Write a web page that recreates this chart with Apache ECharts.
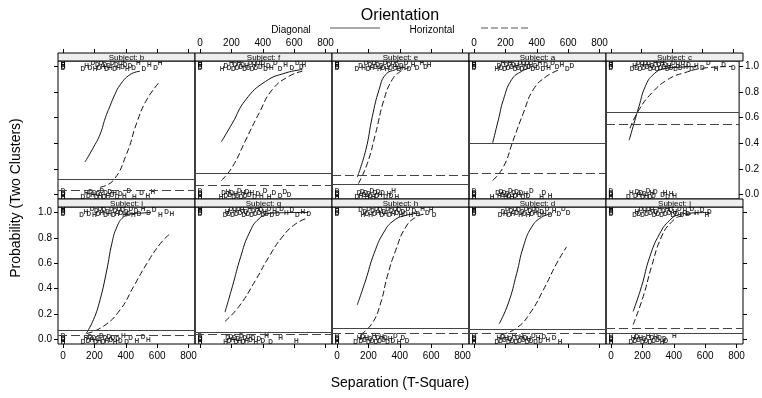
<!DOCTYPE html>
<html><head><meta charset="utf-8">
<script src="https://cdn.jsdelivr.net/npm/echarts@6/dist/echarts.min.js"></script>
<style>html,body{margin:0;padding:0;background:#fff}#c{width:762px;height:398px}</style>
</head><body><div id="c"></div>
<script>
// ---------- DATA ----------
const subjects = ['b','f','e','a','c','i','g','h','d','j'];
const xTicks = [0,200,400,600,800];
const yTicks = [0,0.2,0.4,0.6,0.8,1.0];

// fitted curves (Diagonal = solid, Horizontal = dashed), [separation, probability]
const diagCurves = [
  [[140,0.254],[190,0.36],[236,0.47],[270,0.6],[299,0.69],[330,0.78],[363,0.855],[427,0.937],[490,0.963]],
  [[136,0.412],[206,0.557],[291,0.74],[418,0.884],[546,0.95],[652,0.976]],
  [[129,0.136],[183,0.346],[225,0.609],[268,0.819],[310,0.937],[374,0.976],[430,0.995]],
  [[119,0.404],[155,0.583],[187,0.74],[240,0.898],[304,0.963],[357,0.99]],
  [[120,0.425],[152,0.557],[184,0.687],[226,0.845],[278,0.937],[352,0.982],[460,0.995],[560,1.0]],
  [[147,0.047],[194,0.156],[236,0.313],[279,0.547],[311,0.755],[343,0.885],[385,0.964],[438,0.99],[500,0.995],[560,1.0]],
  [[159,0.216],[206,0.416],[259,0.651],[312,0.833],[376,0.951],[461,0.995],[580,0.999],[690,1.0]],
  [[129,0.273],[183,0.469],[236,0.677],[299,0.846],[363,0.9375],[438,0.977],[523,0.995]],
  [[161,0.125],[219,0.287],[272,0.521],[314,0.729],[367,0.885],[431,0.963],[495,0.99]],
  [[141,0.221],[194,0.416],[247,0.651],[310,0.833],[373,0.9375],[437,0.984],[530,0.997],[627,1.0]]
];
const horizCurves = [
  [[236,0.057],[320,0.11],[406,0.32],[469,0.557],[533,0.74],[618,0.884]],
  [[136,0.11],[206,0.215],[291,0.425],[376,0.635],[461,0.82],[567,0.924],[652,0.963]],
  [[136,0.084],[193,0.242],[246,0.478],[299,0.74],[352,0.898],[406,0.963],[460,0.99]],
  [[119,0.11],[187,0.215],[250,0.425],[314,0.635],[378,0.82],[463,0.924],[548,0.976]],
  [[125,0.517],[184,0.661],[268,0.793],[373,0.898],[479,0.95],[627,0.99],[795,1.0]],
  [[151,0.047],[257,0.104],[364,0.234],[449,0.416],[535,0.6],[620,0.755],[678,0.828]],
  [[159,0.143],[248,0.26],[355,0.469],[439,0.651],[524,0.807],[610,0.911],[690,0.958]],
  [[151,0.039],[225,0.13],[278,0.287],[320,0.495],[374,0.703],[438,0.885],[502,0.963],[565,0.99]],
  [[176,0.039],[272,0.091],[357,0.208],[442,0.391],[527,0.6],[590,0.729]],
  [[141,0.117],[205,0.338],[258,0.573],[321,0.807],[385,0.924],[458,0.977],[540,0.99]]
];
// overall proportions (horizontal reference lines)
const diagMeans  = [0.124,0.168,0.084,0.40,0.64,0.073,0.0625,0.086,0.083,0.052];
const horizMeans = [0.03,0.071,0.15,0.168,0.551,0.026,0.039,0.052,0.052,0.086];

// observed responses: response = 1 (two clusters) and response = 0, [separation, orientation]
const success = [
  [[0,'D'],[0,'D'],[0,'H'],[0,'D'],[0,'H'],[127,'D'],[150,'H'],[172,'D'],[190,'D'],[205,'H'],[218,'D'],[230,'D'],[242,'D'],[255,'H'],[266,'D'],[278,'D'],[290,'D'],[302,'H'],[315,'D'],[328,'D'],[340,'D'],[352,'H'],[365,'D'],[380,'D'],[395,'D'],[410,'H'],[428,'D'],[450,'D'],[480,'H'],[515,'D'],[550,'H'],[590,'D'],[618,'H']],
  [[0,'D'],[0,'D'],[0,'H'],[0,'D'],[0,'H'],[140,'H'],[165,'D'],[185,'D'],[200,'H'],[212,'D'],[224,'D'],[236,'D'],[248,'H'],[260,'D'],[272,'D'],[284,'D'],[296,'H'],[308,'D'],[320,'D'],[332,'D'],[344,'H'],[356,'D'],[370,'D'],[385,'D'],[400,'H'],[418,'D'],[436,'D'],[455,'H'],[480,'D'],[510,'D'],[545,'H'],[585,'D'],[620,'D'],[645,'D'],[662,'H']],
  [[0,'D'],[0,'D'],[0,'H'],[0,'D'],[0,'H'],[127,'D'],[150,'D'],[170,'H'],[185,'D'],[198,'D'],[210,'D'],[222,'H'],[234,'D'],[246,'D'],[258,'D'],[270,'H'],[282,'D'],[294,'D'],[306,'D'],[318,'H'],[330,'D'],[342,'D'],[355,'D'],[368,'H'],[382,'D'],[396,'D'],[410,'D'],[425,'H'],[440,'D'],[460,'D'],[485,'H'],[510,'D'],[540,'H'],[565,'D'],[586,'H']],
  [[0,'D'],[0,'D'],[0,'H'],[0,'D'],[0,'H'],[146,'H'],[160,'D'],[172,'D'],[184,'H'],[195,'D'],[206,'D'],[217,'D'],[228,'H'],[239,'D'],[250,'D'],[261,'D'],[272,'H'],[283,'D'],[294,'D'],[305,'D'],[316,'H'],[327,'D'],[338,'D'],[350,'D'],[362,'H'],[375,'D'],[390,'D'],[405,'D'],[420,'H'],[438,'D'],[456,'D'],[475,'H'],[500,'D'],[530,'D'],[560,'H'],[595,'D'],[624,'D']],
  [[0,'D'],[0,'D'],[0,'H'],[0,'D'],[0,'H'],[139,'D'],[155,'H'],[168,'D'],[180,'D'],[192,'D'],[204,'H'],[215,'D'],[226,'D'],[237,'D'],[248,'H'],[259,'D'],[270,'D'],[281,'D'],[292,'H'],[303,'D'],[314,'D'],[325,'D'],[336,'H'],[347,'D'],[358,'D'],[370,'D'],[382,'H'],[395,'D'],[410,'D'],[425,'D'],[440,'H'],[455,'D'],[472,'D'],[490,'H'],[510,'D'],[530,'D'],[560,'H'],[600,'D'],[640,'D'],[690,'H'],[740,'D'],[804,'D']],
  [[0,'D'],[0,'D'],[0,'H'],[0,'D'],[0,'H'],[119,'D'],[145,'H'],[165,'D'],[185,'D'],[200,'H'],[212,'D'],[224,'D'],[236,'D'],[248,'H'],[260,'D'],[272,'D'],[284,'D'],[296,'H'],[308,'D'],[320,'D'],[332,'D'],[344,'H'],[356,'D'],[368,'D'],[380,'D'],[392,'H'],[404,'D'],[418,'D'],[432,'D'],[448,'H'],[465,'D'],[485,'D'],[510,'H'],[545,'D'],[580,'D'],[620,'H'],[660,'D'],[694,'H']],
  [[0,'D'],[0,'D'],[0,'H'],[0,'D'],[0,'H'],[159,'D'],[172,'H'],[184,'D'],[196,'D'],[208,'D'],[220,'H'],[232,'D'],[244,'D'],[256,'D'],[268,'H'],[280,'D'],[292,'D'],[304,'D'],[316,'H'],[328,'D'],[340,'D'],[352,'D'],[364,'H'],[376,'D'],[388,'D'],[400,'D'],[412,'H'],[425,'D'],[440,'D'],[458,'D'],[476,'H'],[495,'D'],[520,'D'],[550,'H'],[585,'D'],[620,'D'],[655,'H'],[694,'D']],
  [[0,'D'],[0,'D'],[0,'H'],[0,'D'],[151,'D'],[165,'H'],[178,'D'],[190,'D'],[202,'D'],[214,'H'],[226,'D'],[238,'D'],[250,'D'],[262,'H'],[274,'D'],[286,'D'],[298,'D'],[310,'H'],[322,'D'],[334,'D'],[346,'D'],[358,'H'],[370,'D'],[382,'D'],[394,'D'],[406,'H'],[420,'D'],[436,'D'],[452,'D'],[470,'H'],[490,'D'],[515,'D'],[545,'H'],[575,'D'],[600,'H'],[618,'D']],
  [[0,'D'],[0,'D'],[0,'H'],[0,'D'],[0,'H'],[166,'D'],[185,'D'],[200,'H'],[212,'D'],[224,'D'],[236,'D'],[248,'H'],[260,'D'],[272,'D'],[284,'D'],[296,'H'],[308,'D'],[320,'D'],[332,'D'],[344,'H'],[356,'D'],[368,'D'],[380,'D'],[392,'H'],[404,'D'],[418,'D'],[432,'D'],[448,'H'],[465,'D'],[485,'D'],[510,'H'],[540,'D'],[570,'D'],[599,'D']],
  [[0,'D'],[0,'D'],[0,'H'],[0,'D'],[0,'H'],[150,'D'],[165,'H'],[178,'D'],[190,'D'],[202,'D'],[214,'H'],[226,'D'],[238,'D'],[250,'D'],[262,'H'],[274,'D'],[286,'D'],[298,'D'],[310,'H'],[322,'D'],[334,'D'],[346,'D'],[358,'H'],[370,'D'],[382,'D'],[394,'D'],[406,'H'],[420,'D'],[436,'D'],[452,'D'],[470,'H'],[490,'D'],[515,'D'],[545,'H'],[580,'D'],[610,'H'],[627,'D']]
];
const failure = [
  [[0,'D'],[0,'H'],[0,'D'],[0,'H'],[0,'D'],[127,'D'],[148,'H'],[162,'D'],[175,'D'],[188,'H'],[200,'D'],[212,'D'],[224,'D'],[236,'H'],[248,'D'],[260,'D'],[272,'D'],[285,'H'],[298,'D'],[312,'D'],[328,'H'],[345,'D'],[365,'D'],[390,'H'],[420,'D'],[455,'H'],[500,'D'],[540,'H'],[573,'H']],
  [[0,'D'],[0,'H'],[0,'D'],[0,'H'],[0,'D'],[134,'H'],[150,'D'],[165,'D'],[178,'H'],[190,'D'],[202,'D'],[214,'D'],[226,'H'],[238,'D'],[250,'D'],[262,'D'],[275,'H'],[288,'D'],[300,'D'],[314,'D'],[330,'H'],[348,'D'],[368,'D'],[390,'H'],[415,'D'],[440,'H'],[470,'D'],[510,'D'],[540,'D'],[567,'D']],
  [[0,'D'],[0,'H'],[0,'D'],[0,'H'],[0,'D'],[127,'D'],[140,'D'],[152,'H'],[162,'D'],[172,'D'],[182,'D'],[192,'H'],[202,'D'],[212,'D'],[222,'D'],[232,'H'],[242,'D'],[252,'D'],[262,'D'],[275,'H'],[290,'D'],[310,'D'],[330,'H'],[345,'D'],[360,'H'],[382,'H']],
  [[0,'D'],[0,'H'],[0,'D'],[0,'H'],[0,'D'],[115,'H'],[150,'D'],[162,'H'],[172,'D'],[182,'D'],[192,'D'],[202,'H'],[212,'D'],[222,'D'],[232,'D'],[242,'H'],[252,'D'],[262,'D'],[272,'D'],[285,'H'],[298,'D'],[312,'D'],[328,'H'],[345,'D'],[365,'D'],[430,'H'],[445,'D'],[484,'H']],
  [[0,'D'],[0,'H'],[0,'D'],[0,'H'],[0,'D'],[114,'D'],[135,'H'],[160,'D'],[172,'D'],[184,'H'],[196,'D'],[208,'D'],[220,'D'],[232,'H'],[244,'D'],[256,'D'],[268,'H'],[280,'D'],[292,'D'],[340,'D'],[355,'H'],[372,'D'],[395,'H'],[418,'H']],
  [[0,'D'],[0,'H'],[0,'D'],[0,'H'],[0,'D'],[128,'D'],[145,'H'],[160,'D'],[172,'D'],[184,'H'],[196,'D'],[208,'D'],[220,'D'],[232,'H'],[244,'D'],[256,'D'],[268,'D'],[280,'H'],[292,'D'],[304,'D'],[318,'D'],[332,'H'],[348,'D'],[365,'D'],[385,'H'],[405,'D'],[430,'D'],[470,'H'],[510,'D'],[543,'H']],
  [[0,'D'],[0,'H'],[0,'D'],[0,'H'],[0,'D'],[163,'H'],[175,'D'],[186,'D'],[197,'D'],[208,'H'],[219,'D'],[230,'D'],[241,'D'],[252,'H'],[263,'D'],[274,'D'],[285,'D'],[296,'H'],[308,'D'],[322,'D'],[338,'D'],[355,'H'],[375,'D'],[400,'D'],[425,'H'],[450,'D'],[514,'H'],[614,'H']],
  [[0,'D'],[0,'H'],[0,'D'],[0,'H'],[0,'D'],[119,'D'],[140,'H'],[152,'D'],[164,'D'],[176,'D'],[188,'H'],[200,'D'],[212,'D'],[224,'D'],[236,'H'],[248,'D'],[260,'D'],[272,'D'],[284,'H'],[296,'D'],[308,'D'],[322,'D'],[338,'H'],[355,'D'],[372,'D'],[395,'H'],[420,'D'],[446,'D']],
  [[0,'D'],[0,'H'],[0,'D'],[0,'H'],[0,'D'],[145,'D'],[158,'H'],[170,'D'],[182,'D'],[194,'D'],[206,'H'],[218,'D'],[230,'D'],[242,'D'],[254,'H'],[266,'D'],[278,'D'],[290,'D'],[302,'H'],[314,'D'],[326,'D'],[338,'D'],[350,'H'],[364,'D'],[378,'D'],[392,'D'],[408,'H'],[425,'D'],[445,'D'],[470,'H'],[510,'D'],[548,'H']],
  [[0,'D'],[0,'H'],[0,'D'],[0,'H'],[0,'D'],[127,'D'],[140,'H'],[152,'D'],[164,'D'],[176,'D'],[188,'H'],[200,'D'],[212,'D'],[224,'D'],[236,'H'],[248,'D'],[260,'D'],[272,'D'],[284,'H'],[296,'D'],[310,'D'],[325,'H'],[340,'D'],[350,'D'],[404,'H']]
];
// fixed vertical display offsets for the 0/1 responses (listed, not random)
const jitter = [0.010,-0.014,0.022,-0.004,0.014,-0.022,0.002,-0.010,0.024,-0.018];

// ---------- LAYOUT ----------
const FONT = 'Liberation Sans, Arial, sans-serif';
const colLeft = [58,195,332,469,606], panelW = 137;
const rowTop = [61,207], rowH = [138,137], stripH = 8;
const grids = [], xAxes = [], yAxes = [], series = [], graphics = [];

subjects.forEach((s, i) => {
  const r = i < 5 ? 0 : 1, c = i % 5;
  grids.push({left: colLeft[c], top: rowTop[r], width: panelW, height: rowH[r],
    show: true, borderColor: '#000', borderWidth: 1, backgroundColor: 'transparent'});
  const showX = r === 0 ? (c === 1 || c === 3) : (c % 2 === 0);
  xAxes.push({gridIndex: i, type: 'value', min: -32, max: 841,
    position: r === 0 ? 'top' : 'bottom', offset: r === 0 ? stripH : 0,
    axisLine: {show: false, onZero: false}, splitLine: {show: false},
    axisTick: {show: true, inside: false, length: 4, lineStyle: {color: '#000'}, customValues: xTicks},
    axisLabel: {show: showX, customValues: xTicks, margin: r === 0 ? 5 : 7, fontSize: 10, color: '#000', fontFamily: FONT}});
  const yPos = c === 4 ? 'right' : 'left';
  const yTickShow = (c === 0 || c === 4);
  const yLabShow = (c === 0 && r === 1) || (c === 4 && r === 0);
  yAxes.push({gridIndex: i, type: 'value', min: -0.035, max: 1.043, position: yPos,
    axisLine: {show: false, onZero: false}, splitLine: {show: false},
    axisTick: {show: yTickShow, inside: false, length: 4, lineStyle: {color: '#000'}, customValues: yTicks},
    axisLabel: {show: yLabShow, customValues: yTicks, margin: 6, fontSize: 10, color: '#000', fontFamily: FONT,
      formatter: v => v.toFixed(1)}});

  const pts = success[i].map((p, k) => [p[0], 1 + jitter[k % jitter.length], p[1]])
    .concat(failure[i].map((p, k) => [p[0], 0 + jitter[(k + 4) % jitter.length], p[1]]));
  series.push({type: 'scatter', xAxisIndex: i, yAxisIndex: i, data: pts, silent: true,
    symbol: 'circle', symbolSize: 1, itemStyle: {color: 'rgba(0,0,0,0)'},
    label: {show: true, position: 'inside', formatter: p => p.data[2], fontSize: 6.5, fontWeight: 'bold', color: '#000', fontFamily: FONT},
    labelLayout: {hideOverlap: false},
    z: 2});
  series.push({type: 'line', xAxisIndex: i, yAxisIndex: i, data: diagCurves[i], smooth: 0.5,
    showSymbol: false, silent: true, lineStyle: {color: '#111', width: 1}, z: 3,
    markLine: {silent: true, symbol: ['none','none'], label: {show: false},
      lineStyle: {color: '#444', width: 1.2, type: 'solid'}, data: [{yAxis: diagMeans[i]}]}});
  series.push({type: 'line', xAxisIndex: i, yAxisIndex: i, data: horizCurves[i], smooth: 0.5,
    showSymbol: false, silent: true, lineStyle: {color: '#111', width: 1, type: [6,3]}, z: 3,
    markLine: {silent: true, symbol: ['none','none'], label: {show: false},
      lineStyle: {color: '#444', width: 1.2, type: [9,4]}, data: [{yAxis: horizMeans[i]}]}});

  graphics.push({type: 'rect', shape: {x: colLeft[c], y: rowTop[r] - stripH, width: panelW, height: stripH},
    style: {fill: '#eeeeee', stroke: '#000', lineWidth: 1}, z: 10});
  graphics.push({type: 'text', x: colLeft[c] + panelW / 2, y: rowTop[r] - stripH / 2 + 0.5, z: 11,
    style: {text: 'Subject: ' + s, fontSize: 8, fill: '#000', align: 'center', verticalAlign: 'middle', fontFamily: FONT}});
});

// legend and axis titles
graphics.push({type: 'text', x: 400, y: 16, style: {text: 'Orientation', fontSize: 16, fill: '#000', align: 'center', verticalAlign: 'middle', fontFamily: FONT}});
graphics.push({type: 'text', x: 291, y: 30, style: {text: 'Diagonal', fontSize: 10, fill: '#000', align: 'center', verticalAlign: 'middle', fontFamily: FONT}});
graphics.push({type: 'line', shape: {x1: 330, y1: 28, x2: 380, y2: 28}, style: {stroke: '#555', lineWidth: 1}});
graphics.push({type: 'text', x: 432, y: 30, style: {text: 'Horizontal', fontSize: 10, fill: '#000', align: 'center', verticalAlign: 'middle', fontFamily: FONT}});
graphics.push({type: 'line', shape: {x1: 481, y1: 28, x2: 531, y2: 28}, style: {stroke: '#555', lineWidth: 1, lineDash: [7,3]}});
graphics.push({type: 'text', x: 400, y: 383, style: {text: 'Separation (T-Square)', fontSize: 14, fill: '#000', align: 'center', verticalAlign: 'middle', fontFamily: FONT}});
graphics.push({type: 'text', x: 16, y: 198, rotation: Math.PI / 2, style: {text: 'Probability (Two Clusters)', fontSize: 14, fill: '#000', align: 'center', verticalAlign: 'middle', fontFamily: FONT}});

const chart = echarts.init(document.getElementById('c'), null, {renderer: 'canvas'});
chart.setOption({animation: false, backgroundColor: '#fff',
  grid: grids, xAxis: xAxes, yAxis: yAxes, series: series, graphic: graphics});
</script>
</body></html>
